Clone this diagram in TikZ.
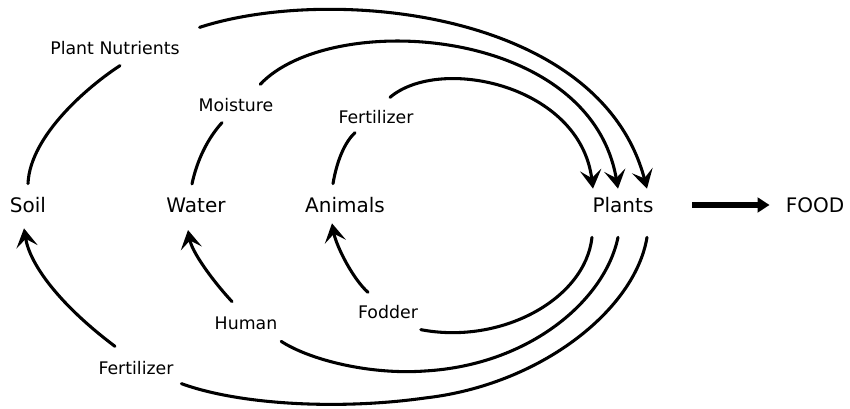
\documentclass[tikz,border=0pt]{standalone}
\usepackage{fontspec}
\setmainfont{DejaVu Sans}
\usetikzlibrary{arrows.meta,calc}
\tikzset{
    place/.style={font=\fontsize{15}{18}\selectfont, inner xsep=2pt, inner ysep=10pt},
    via/.style={font=\fontsize{13}{15}\selectfont, inner sep=2pt},
    flow/.style={line width=2.3pt, line cap=round},
    flowtip/.style={-{Stealth[length=14pt, width=16pt, inset=6pt]}}
}
\begin{document}
\begin{tikzpicture}[x=0.75pt, y=-0.75pt]
            \useasboundingbox (0, 0) rectangle (850, 409);
            \node[place] (soil) at (28, 205) {Soil};
            \node[place] (water) at (196, 205) {Water};
            \node[place] (animals) at (345, 205) {Animals};
            \node[place] (plants) at (623, 205) {Plants};
            \node[place] (food) at (815, 205) {FOOD};
            \node[via] (nutr) at (115, 48) {Plant Nutrients};
            \node[via] (moist) at (236, 105) {Moisture};
            \node[via] (fertTop) at (376, 117) {Fertilizer};
            \node[via] (fodder) at (388, 312) {Fodder};
            \node[via] (human) at (246, 323) {Human};
            \node[via] (fertBot) at (136, 368) {Fertilizer};
            % into the plants
            \draw[flow] (soil.north) .. controls (30, 135) and (90, 85) .. ($(nutr.south)+(5, 8)$);
            \draw[flow, flowtip] ($(nutr.north east)+(17, -11)$) .. controls (330, -15) and (600, 10) .. ($(plants.north)+(24, 5)$);
            \draw[flow] ($(water.north)+(-4, 0)$) .. controls (197, 160) and (208, 138) .. ($(moist.south)+(-14, 8)$);
            \draw[flow, flowtip] ($(moist.north east)+(-16, -11)$) .. controls (330, 10) and (590, 25) .. ($(plants.north)+(-5, 5)$);
            \draw[flow] ($(animals.north)+(-12, 0)$) .. controls (337, 160) and (345, 142) .. ($(fertTop.south)+(-21, 6)$);
            \draw[flow, flowtip] ($(fertTop.north)+(14, -10)$) .. controls (440, 55) and (580, 85) .. ($(plants.north)+(-30, 5)$);
            % out of the plants
            \draw[flow] ($(plants.south)+(-31, 11)$) .. controls (585, 300) and (500, 345) .. ($(fodder.south east)+(0, 8)$);
            \draw[flow, flowtip] ($(fodder.north)+(-20, -10)$) .. controls (352, 278) and (336, 245) .. ($(animals.south)+(-13, -3)$);
            \draw[flow] ($(plants.south)+(-5, 11)$) .. controls (605, 300) and (530, 365) .. (425, 371) .. controls (370, 375) and (310, 360) .. ($(human.south east)+(1, 9)$);
            \draw[flow, flowtip] ($(human.north)+(-14, -12)$) .. controls (212, 280) and (192, 252) .. ($(water.south)+(-8, 4)$);
            \draw[flow] ($(plants.south)+(24, 11)$) .. controls (635, 310) and (540, 385) .. (425, 398) .. controls (340, 410) and (240, 405) .. ($(fertBot.south east)+(5, 6)$);
            \draw[flow, flowtip] ($(fertBot.north)+(-21, -12)$) .. controls (60, 305) and (30, 265) .. ($(soil.south)+(-4, 2)$);
            \draw[line width=4pt, -{Triangle[length=9pt, width=11pt]}, shorten <=27pt, shorten >=10pt] (plants.east) -- (food.west);
        \end{tikzpicture}
\end{document}
